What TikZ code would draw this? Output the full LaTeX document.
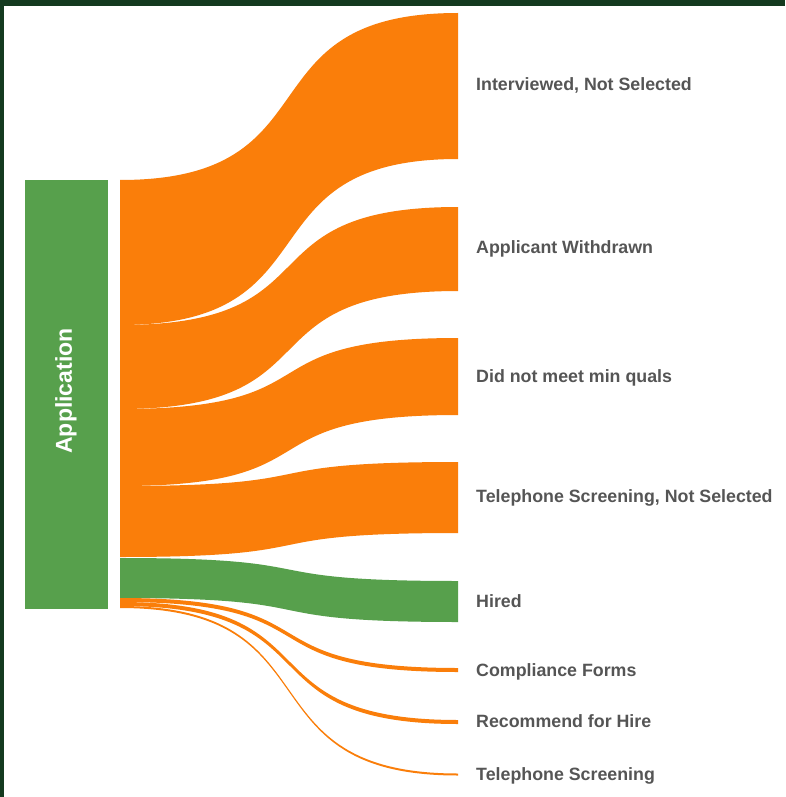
\documentclass[tikz,border=0pt]{standalone}
\usepackage{fontspec}
\setmainfont{Liberation Sans}
\usetikzlibrary{positioning, calc}
\definecolor{frame_green}{HTML}{143A1F}
\definecolor{bar_green}{HTML}{57A04C}
\definecolor{flow_orange}{HTML}{FA7E0A}
\definecolor{label_gray}{HTML}{555555}
\tikzset{
  label_font/.style = {font=\fontsize{17.8}{20}\selectfont\bfseries},
  bar_font/.style = {font=\fontsize{23}{26}\selectfont\bfseries},
  source_bar/.style = {fill=bar_green, inner sep=0, minimum width=83pt, minimum height=429pt},
  bar_text/.style = {bar_font, text=white, rotate=90, inner sep=0}
}
\tikzset{
  target/.style = {label_font, text=label_gray, anchor=west, inner sep=0,
                   text height=12.7pt, text depth=0pt},
  out_flow/.style = {fill=flow_orange},
  hire_flow/.style = {fill=bar_green}
}

\begin{document}
\begin{tikzpicture}[x=1pt, y=-1pt]

    % Frame
    \fill[white] (0,0) rectangle (785,797);
    \fill[frame_green] (0,0) rectangle (785,6.5);
    \fill[frame_green] (0,0) rectangle (4,797);
    \useasboundingbox (0,0) rectangle (785,797);

    % Source
    \node[source_bar] (app) at (66.5,394.5) {};
    \node[bar_text] at (66,391) (app_txt) {Application};

    % Targets
    \node[target] (interviewed) at (476,84) {Interviewed, Not Selected};
    \node[target] (withdrawn) at (476,247) {Applicant Withdrawn};
    \node[target] (min_quals) at (476,376) {Did not meet min quals};
    \node[target] (phone_not_sel) at (476,496) {Telephone Screening, Not Selected};
    \node[target] (hired) at (476,601) {Hired};
    \node[target] (compliance) at (476,670) {Compliance Forms};
    \node[target] (recommend) at (476,721) {Recommend for Hire};
    \node[target] (phone) at (476,774) {Telephone Screening};

    % Flows
    \coordinate (ctrl_s) at (339.7,0);
    \coordinate (ctrl_t) at (238.3,0);
    \foreach \k/\st/\sb/\tt/\tb/\kind in {
        1/180/325/13/159/out_flow,
        2/325/409/207/291/out_flow,
        3/409/486/338/415/out_flow,
        4/486/557/462/533/out_flow,
        5/558/598/581/622/hire_flow,
        6/598/602/668/672/out_flow,
        7/602/606/720/724/out_flow,
        8/606/608/773.5/775.5/out_flow}{
        \coordinate (s\k a) at (120,\st);
        \coordinate (s\k b) at (120,\sb);
        \coordinate (t\k a) at (458,\tt);
        \coordinate (t\k b) at (458,\tb);
        \fill[\kind] (s\k a) .. controls (s\k a -| ctrl_s) and (t\k a -| ctrl_t) .. (t\k a)
            -- (t\k b) .. controls (t\k b -| ctrl_t) and (s\k b -| ctrl_s) .. (s\k b) -- cycle;
    }

\end{tikzpicture}
\end{document}
